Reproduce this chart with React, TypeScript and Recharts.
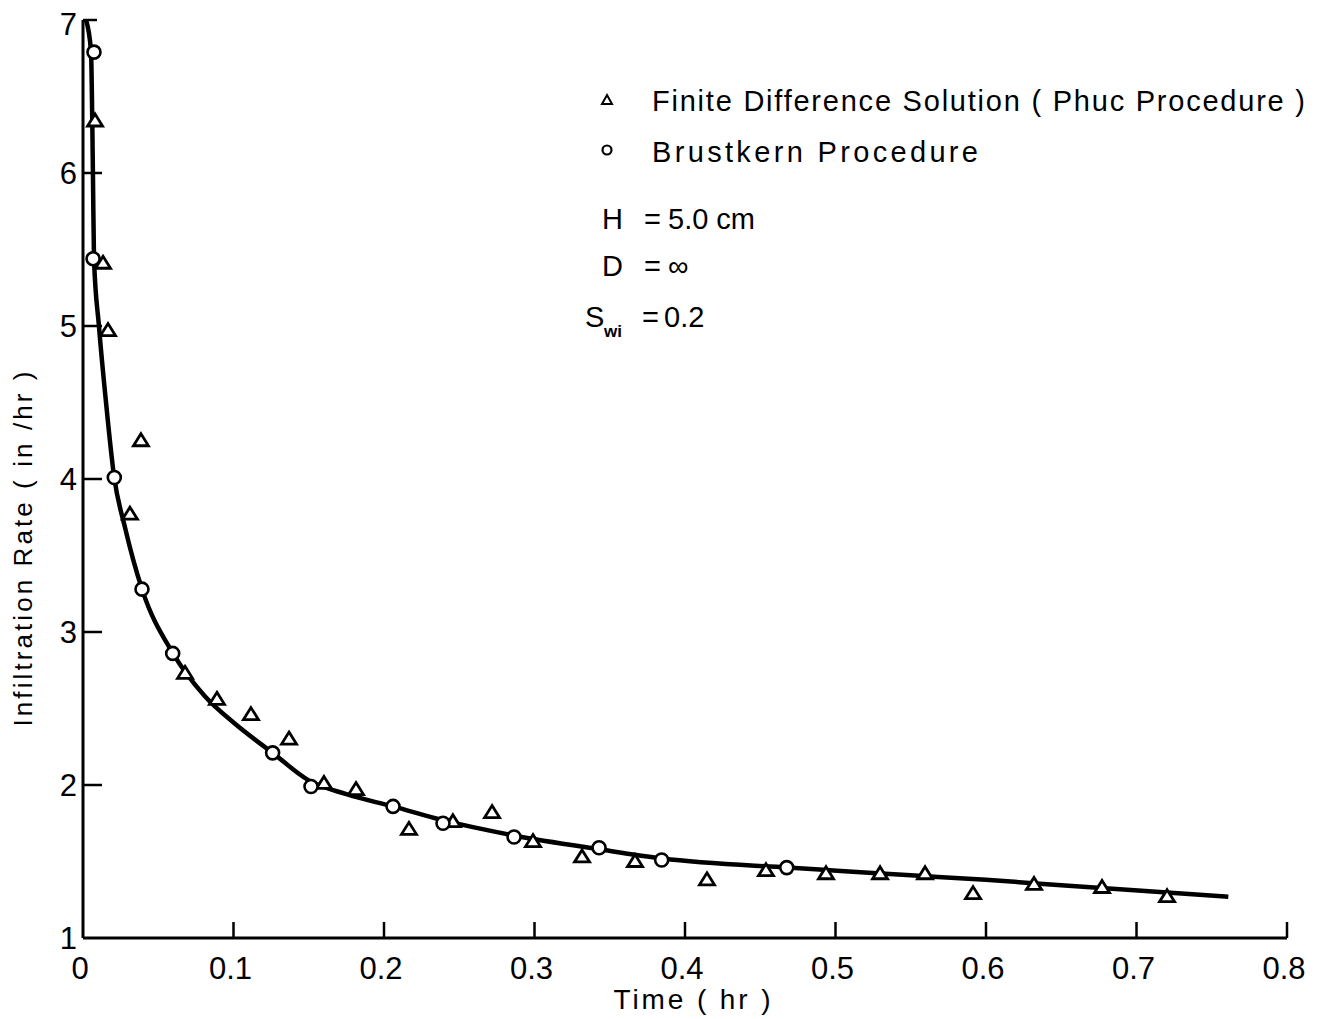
import React from 'react';
import { ComposedChart, Line, Scatter, XAxis, YAxis } from 'recharts';

// values
const timeTicks = [0, 0.1, 0.2, 0.3, 0.4, 0.5, 0.6, 0.7, 0.8];
const rateTicks = [1, 2, 3, 4, 5, 6, 7];

// finite difference solution (Phuc procedure) - triangles
const phucTime = [0.008, 0.0133, 0.0166, 0.0312, 0.0385, 0.0678, 0.089, 0.1116, 0.1369, 0.1601, 0.1814, 0.2166, 0.2458, 0.2718, 0.299, 0.3316, 0.3668, 0.4146, 0.4538, 0.4937, 0.5296, 0.5595, 0.5914, 0.6319, 0.6771, 0.7203];
const phucRate = [6.34, 5.41, 4.97, 3.77, 4.25, 2.73, 2.56, 2.46, 2.3, 2.01, 1.97, 1.71, 1.76, 1.82, 1.63, 1.53, 1.5, 1.38, 1.44, 1.42, 1.42, 1.42, 1.29, 1.35, 1.33, 1.27];

// Brustkern procedure - circles
const brustTime = [0.0067, 0.0073, 0.0208, 0.0392, 0.0596, 0.126, 0.1515, 0.206, 0.2392, 0.2864, 0.3429, 0.3845, 0.4676];
const brustRate = [5.44, 6.79, 4.01, 3.28, 2.86, 2.21, 1.99, 1.86, 1.75, 1.66, 1.59, 1.51, 1.46];

// fitted curve
const curveTime = [0.002, 0.0053, 0.0066, 0.0073, 0.0106, 0.0153, 0.0206, 0.028, 0.0392, 0.0598, 0.081, 0.101, 0.126, 0.15, 0.175, 0.206, 0.239, 0.2864, 0.343, 0.385, 0.468, 0.501, 0.55, 0.6, 0.65, 0.701, 0.761];
const curveRate = [7.0, 6.8, 6.0, 5.44, 5.0, 4.5, 4.02, 3.68, 3.28, 2.86, 2.58, 2.4, 2.21, 2.03, 1.94, 1.86, 1.77, 1.67, 1.58, 1.52, 1.46, 1.44, 1.41, 1.38, 1.345, 1.31, 1.27];

const zip = (ts: number[], rs: number[]) => ts.map((t, i) => ({ t, rate: rs[i] }));
const phucData = zip(phucTime, phucRate);
const brustData = zip(brustTime, brustRate);
const curveData = zip(curveTime, curveRate);

const FONT = '"Liberation Sans", Arial, sans-serif';

const Triangle = (props: any) => {
  const { cx, cy } = props;
  if (cx == null || cy == null) return null;
  return (
    <polygon
      points={`${cx},${cy - 7} ${cx + 7.5},${cy + 5} ${cx - 7.5},${cy + 5}`}
      fill="#fff"
      stroke="#000"
      strokeWidth={2.8}
      strokeLinejoin="miter"
    />
  );
};

const Circle = (props: any) => {
  const { cx, cy } = props;
  if (cx == null || cy == null) return null;
  return <circle cx={cx} cy={cy} r={6.5} fill="#fff" stroke="#000" strokeWidth={2.6} />;
};

// ticks point inward, like the original drawing
const YTick = (props: any) => {
  const { x, y, payload } = props;
  const v = payload.value;
  return (
    <g>
      {v !== 1 && <line x1={x} x2={x + (v === 7 ? 14 : 19)} y1={y} y2={y} stroke="#000" strokeWidth={2.5} />}
      <text x={x - 6} y={v === 7 ? y + 4 : y} textAnchor="end" dominantBaseline="central" fontSize={31} fontFamily={FONT} fill="#000">
        {v}
      </text>
    </g>
  );
};

const XTick = (props: any) => {
  const { x, y, payload } = props;
  const v = payload.value;
  return (
    <g>
      {v !== 0 && <line x1={x} x2={x} y1={y} y2={y - 16} stroke="#000" strokeWidth={2.5} />}
      <text x={x - 3} y={y + 41} textAnchor="middle" fontSize={31} fontFamily={FONT} fill="#000">
        {v === 0 ? '0' : v.toFixed(1)}
      </text>
    </g>
  );
};

const XTitle = (props: any) => {
  const { viewBox } = props;
  const cx = viewBox.x + viewBox.width / 2 + 7;
  return (
    <text x={cx} y={viewBox.y + 71} textAnchor="middle" fontSize={28} fontFamily={FONT} fill="#000" textLength={157} lengthAdjust="spacing">
      Time ( hr )
    </text>
  );
};

const YTitle = (props: any) => {
  const { viewBox } = props;
  const cx = viewBox.x + 15;
  const cy = viewBox.y + viewBox.height / 2 + 70;
  return (
    <text
      x={cx}
      y={cy}
      transform={`rotate(-90, ${cx}, ${cy})`}
      textAnchor="middle"
      dominantBaseline="central"
      fontSize={26}
      fontFamily={FONT}
      fill="#000"
      textLength={355}
      lengthAdjust="spacing"
    >
      Infiltration Rate ( in /hr )
    </text>
  );
};

const Notes = () => (
  <svg width={1330} height={400} style={{ position: 'absolute', left: 0, top: 0, pointerEvents: 'none' }}>
    <g fontFamily={FONT} fill="#000" fontSize={29}>
      <polygon points="599,87 604,96 594,96" fill="none" stroke="#000" strokeWidth={2} />
      <text x={644} y={103} textLength={653} lengthAdjust="spacing">Finite Difference Solution ( Phuc Procedure )</text>
      <circle cx={599} cy={142} r={4.5} fill="none" stroke="#000" strokeWidth={2.2} />
      <text x={644} y={154} textLength={326} lengthAdjust="spacing">Brustkern Procedure</text>
      <text x={594} y={221}>H</text>
      <text x={636} y={221}>=</text>
      <text x={660} y={221}>5.0 cm</text>
      <text x={594} y={268}>D</text>
      <text x={636} y={268}>=</text>
      <text x={660} y={268}>∞</text>
      <text x={577} y={319}>S</text>
      <text x={596} y={329} fontSize={17} fontWeight="bold">wi</text>
      <text x={634} y={319}>=</text>
      <text x={656} y={319}>0.2</text>
    </g>
  </svg>
);

export default function App() {
  return (
    <div style={{ position: 'relative', width: 1330, height: 1011, background: '#fff' }}>
      <ComposedChart width={1330} height={1011} margin={{ top: 12, right: 51, bottom: 15, left: 0 }}>
        <XAxis
          type="number"
          dataKey="t"
          domain={[0, 0.8]}
          ticks={timeTicks}
          allowDataOverflow
          height={66}
          tickSize={0}
          tickMargin={0}
          tick={<XTick />}
          axisLine={{ stroke: '#000', strokeWidth: 3 }}
          label={<XTitle />}
        />
        <YAxis
          type="number"
          domain={[1, 7]}
          ticks={rateTicks}
          allowDataOverflow
          width={75}
          tickSize={0}
          tickMargin={0}
          tick={<YTick />}
          axisLine={{ stroke: '#000', strokeWidth: 3 }}
          label={<YTitle />}
        />
        <Line
          data={curveData}
          dataKey="rate"
          type="monotone"
          stroke="#000"
          strokeWidth={4.5}
          dot={false}
          activeDot={false}
          isAnimationActive={false}
        />
        <Scatter data={phucData} dataKey="rate" shape={<Triangle />} isAnimationActive={false} />
        <Scatter data={brustData} dataKey="rate" shape={<Circle />} isAnimationActive={false} />
      </ComposedChart>
      <Notes />
    </div>
  );
}
